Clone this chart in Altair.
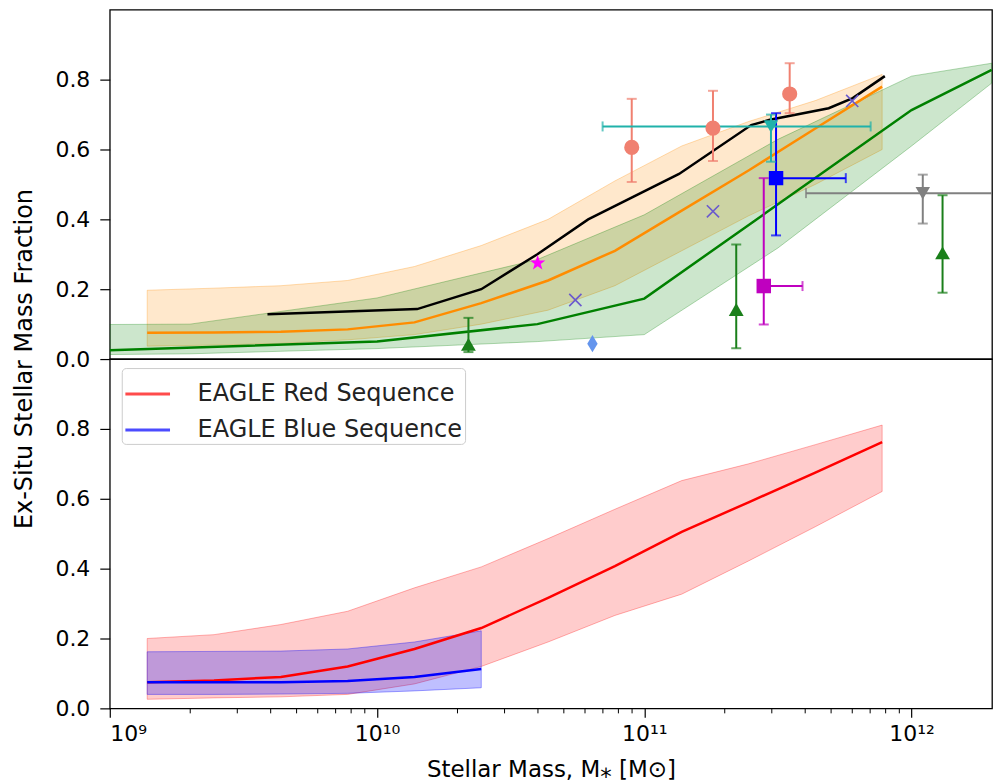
import altair as alt
import pandas as pd

FONT = "DejaVu Sans"

# ---------------- data (log10 stellar mass, fraction) ----------------
# EAGLE bins
eagle_logm = [9.14, 9.39, 9.64, 9.89, 10.14, 10.39, 10.64, 10.89, 11.14, 11.39, 11.64, 11.89]
all_med = [0.075, 0.076, 0.078, 0.085, 0.105, 0.16, 0.225, 0.31, 0.425, 0.54, 0.66, 0.78]
all_hi = [0.197, 0.203, 0.21, 0.225, 0.265, 0.325, 0.40, 0.51, 0.61, 0.68, 0.74, 0.815]
all_lo = [0.037, 0.04, 0.045, 0.055, 0.07, 0.10, 0.14, 0.21, 0.31, 0.41, 0.50, 0.60]

red_med = [0.075, 0.08, 0.09, 0.12, 0.17, 0.23, 0.316, 0.407, 0.505, 0.59, 0.675, 0.762]
red_hi = [0.2, 0.211, 0.24, 0.278, 0.345, 0.405, 0.486, 0.57, 0.652, 0.70, 0.755, 0.811]
red_lo = [0.026, 0.03, 0.033, 0.04, 0.07, 0.12, 0.19, 0.266, 0.327, 0.422, 0.52, 0.621]

blue_logm = [9.14, 9.39, 9.64, 9.89, 10.14, 10.39]
blue_med = [0.075, 0.075, 0.075, 0.078, 0.09, 0.113]
blue_hi = [0.162, 0.163, 0.164, 0.17, 0.19, 0.222]
blue_lo = [0.04, 0.04, 0.041, 0.043, 0.05, 0.059]

# second simulation (green)
green_logm = [9.0, 10.0, 10.6, 11.0, 12.0, 12.3]
green_med = [0.025, 0.05, 0.10, 0.173, 0.713, 0.828]
green_band_logm = [9.0, 9.3, 10.0, 10.6, 11.0, 11.5, 12.0, 12.3]
green_hi = [0.099, 0.10, 0.175, 0.285, 0.413, 0.629, 0.81, 0.847]
green_lo = [0.013, 0.015, 0.03, 0.05, 0.07, 0.318, 0.61, 0.79]

# third model (black)
black_logm = [9.59, 10.15, 10.39, 10.60, 10.79, 11.13, 11.40, 11.47, 11.69, 11.78, 11.90]
black_val = [0.128, 0.143, 0.20, 0.30, 0.40, 0.53, 0.67, 0.685, 0.718, 0.747, 0.81]

# observations with error bars
obs_name = ["salmon1", "salmon2", "salmon3", "cyan", "blue", "magenta", "gray", "green1", "green2", "green3"]
obs_logm = [10.953, 11.257, 11.544, 11.474, 11.493, 11.447, 12.042, 10.342, 11.344, 12.116]
obs_val = [0.606, 0.661, 0.759, 0.666, 0.518, 0.209, 0.475, 0.042, 0.142, 0.304]
obs_vlo = [0.507, 0.567, 0.704, 0.565, 0.354, 0.099, 0.388, 0.02, 0.031, 0.19]
obs_vhi = [0.745, 0.768, 0.847, 0.70, 0.704, 0.518, 0.528, 0.118, 0.328, 0.469]
obs_mlo = [None, None, None, 10.844, 11.493, 11.447, 11.605, None, None, None]
obs_mhi = [None, None, None, 11.847, 11.754, 11.592, 12.6, None, None, None]
obs_color = ["#f08070", "#f08070", "#f08070", "#20b2aa", "#0000ff", "#bf00bf", "#808080",
             "#1a7f1a", "#1a7f1a", "#1a7f1a"]
obs_shape = ["circle", "circle", "circle", "triangle-down", "square", "square", "triangle-down",
             "triangle-up", "triangle-up", "triangle-up"]

x_logm = [10.742, 11.257, 11.778]
x_val = [0.169, 0.423, 0.739]
star_logm = [10.601]
star_val = [0.275]
diamond_logm = [10.806]
diamond_val = [0.044]

minor_ticks = [k * 10 ** e for e in (9, 10, 11) for k in range(2, 10)]
major_ticks = [1e9, 1e10, 1e11, 1e12]
y_ticks = [0.0, 0.2, 0.4, 0.6, 0.8]

legend_names = ["EAGLE Red Sequence", "EAGLE Blue Sequence"]


def M(logs):
    return [None if v is None else 10 ** v for v in logs]


# ---------------- scales / axes ----------------
W, H = 884, 350
xscale = alt.Scale(type="log", domain=[1e9, 2e12], nice=False)
yscale = alt.Scale(domain=[0, 1.0], nice=False, zero=False)

yaxis = alt.Axis(values=y_ticks, format=".1f", title=None, tickSize=10, tickWidth=1.2,
                 tickColor="black", labelFontSize=22, labelFont=FONT, labelColor="black",
                 labelPadding=10, domain=False, grid=False)
label_expr = ("round(log(datum.value)/LN10) == 9 ? '10\u2079' : "
              "round(log(datum.value)/LN10) == 10 ? '10\u00b9\u2070' : "
              "round(log(datum.value)/LN10) == 11 ? '10\u00b9\u00b9' : '10\u00b9\u00b2'")
xaxis_bottom = alt.Axis(values=major_ticks, labelExpr=label_expr, title="Stellar Mass, M\u204e [M\u2299]",
                        tickSize=9, tickWidth=1.2, tickColor="black", labelFontSize=22,
                        labelFont=FONT, labelColor="black", labelPadding=6,
                        titleFontSize=23, titleFont=FONT, titleFontWeight="normal",
                        titleColor="black", titlePadding=14, domain=False, grid=False)


def X(field, axis=None):
    return alt.X(field, type="quantitative", scale=xscale, axis=axis)


def Y(field):
    return alt.Y(field, type="quantitative", scale=yscale, axis=yaxis)


def band(logm, hi, lo, color, op, axis=None):
    d = pd.DataFrame({"m": M(logm), "hi": hi, "lo": lo})
    return alt.Chart(d).mark_area(color=color, fillOpacity=op, stroke=color, strokeOpacity=op + 0.1,
                                  strokeWidth=1, clip=True).encode(
        x=X("m", axis), y=Y("hi"), y2=alt.Y2("lo"))


def line(logm, vals, color, width=2.5):
    d = pd.DataFrame({"m": M(logm), "v": vals})
    return alt.Chart(d).mark_line(color=color, strokeWidth=width, clip=True).encode(x=X("m"), y=Y("v"))


# ---------------- top panel ----------------
obs = pd.DataFrame({"name": obs_name, "m": M(obs_logm), "v": obs_val, "vlo": obs_vlo, "vhi": obs_vhi,
                    "mlo": M(obs_mlo), "mhi": M(obs_mhi), "color": obs_color, "shape": obs_shape})
obs_h = obs.dropna(subset=["mlo"])

top_layers = [
    band(eagle_logm, all_hi, all_lo, "darkorange", 0.2),
    band(green_band_logm, green_hi, green_lo, "green", 0.2),
    line(green_logm, green_med, "green"),
    line(eagle_logm, all_med, "darkorange"),
    line(black_logm, black_val, "black"),
]

# error bars
top_layers.append(alt.Chart(obs).mark_rule(strokeWidth=2, clip=True).encode(
    x=X("m"), y=Y("vlo"), y2=alt.Y2("vhi"), color=alt.Color("color:N", scale=None)))
top_layers.append(alt.Chart(obs_h).mark_rule(strokeWidth=2, clip=True).encode(
    x=X("mlo"), x2=alt.X2("mhi"), y=Y("v"), color=alt.Color("color:N", scale=None)))
for fld in ("vlo", "vhi"):
    top_layers.append(alt.Chart(obs).mark_point(shape="stroke", size=100, strokeWidth=2, filled=False,
                                                clip=True).encode(
        x=X("m"), y=Y(fld), color=alt.Color("color:N", scale=None)))
for fld in ("mlo", "mhi"):
    top_layers.append(alt.Chart(obs_h).mark_point(shape="M0,-1L0,1", size=100, strokeWidth=2,
                                                  filled=False, clip=True).encode(
        x=X(fld), y=Y("v"), color=alt.Color("color:N", scale=None)))
# markers
for shp, sz in (("circle", 230), ("triangle-down", 210), ("square", 210), ("triangle-up", 220)):
    top_layers.append(alt.Chart(obs[obs["shape"] == shp]).mark_point(
        shape=shp, size=sz, filled=True, opacity=1, clip=True).encode(
        x=X("m"), y=Y("v"), color=alt.Color("color:N", scale=None)))

top_layers.append(alt.Chart(pd.DataFrame({"m": M(x_logm), "v": x_val})).mark_point(
    shape="M-1,-1L1,1M-1,1L1,-1", size=150, strokeWidth=1.6, filled=False, color="#6a5acd",
    opacity=1, clip=True).encode(x=X("m"), y=Y("v")))
top_layers.append(alt.Chart(pd.DataFrame({"m": M(star_logm), "v": star_val})).mark_point(
    shape="M0,-1L0.24,-0.31L0.95,-0.31L0.38,0.12L0.59,0.81L0,0.4L-0.59,0.81L-0.38,0.12L-0.95,-0.31L-0.24,-0.31Z",
    size=260, filled=True, color="#ff00ff", opacity=1, clip=True).encode(x=X("m"), y=Y("v")))
top_layers.append(alt.Chart(pd.DataFrame({"m": M(diamond_logm), "v": diamond_val})).mark_point(
    shape="M0,-1L0.6,0L0,1L-0.6,0Z", size=300, filled=True, color="#6495ed", opacity=1,
    clip=True).encode(x=X("m"), y=Y("v")))

top = alt.layer(*top_layers).properties(width=W, height=H)

# ---------------- bottom panel ----------------
lines_df = pd.DataFrame({
    "m": M(eagle_logm) + M(blue_logm),
    "v": red_med + blue_med,
    "series": [legend_names[0]] * len(eagle_logm) + [legend_names[1]] * len(blue_logm),
})

bottom_layers = [
    band(eagle_logm, red_hi, red_lo, "red", 0.2, xaxis_bottom),
    band(blue_logm, blue_hi, blue_lo, "blue", 0.25, xaxis_bottom),
    alt.Chart(lines_df).mark_line(strokeWidth=2.5, clip=True).encode(
        x=X("m", xaxis_bottom), y=Y("v"),
        color=alt.Color("series:N", sort=legend_names,
                        scale=alt.Scale(domain=legend_names, range=["red", "blue"]),
                        legend=alt.Legend(orient="none", legendX=12, legendY=H + 9, title=None,
                                          symbolType="stroke", symbolStrokeWidth=3, symbolSize=2000,
                                          symbolOpacity=1,
                                          labelFontSize=24, labelFont=FONT, labelColor="#222222",
                                          padding=2, strokeColor="#cccccc", fillColor="white",
                                          cornerRadius=4, rowPadding=-5, labelOffset=26,
                                          labelLimit=400))),
    alt.Chart(pd.DataFrame({"m": minor_ticks})).mark_rule(color="black", strokeWidth=1).encode(
        x=X("m", xaxis_bottom), y=alt.value(H), y2=alt.value(H + 5)),
    alt.Chart(pd.DataFrame({"t": ["Ex-Situ Stellar Mass Fraction"]})).mark_text(
        angle=270, fontSize=24, font=FONT, color="black", align="center", baseline="middle").encode(
        x=alt.value(-85), y=alt.value(0), text="t:N"),
]

bottom = alt.layer(*bottom_layers).properties(width=W, height=H)

chart = alt.vconcat(top, bottom, spacing=0, bounds="flush").properties(
    padding={"left": 12, "top": 8, "right": 1, "bottom": 2}
).configure_view(stroke="black", strokeWidth=1.3)

chart.save("out.html", embed_options={"renderer": "svg", "actions": False})
